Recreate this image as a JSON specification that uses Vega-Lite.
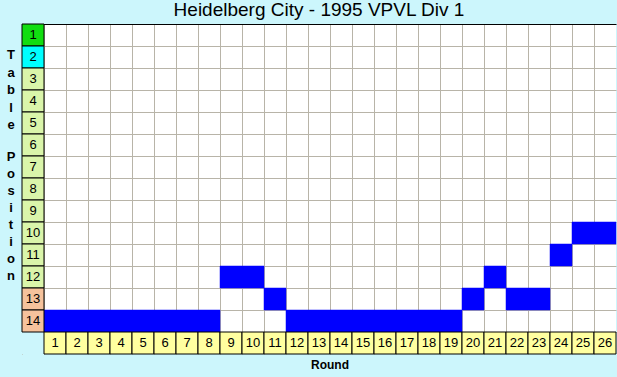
{
  "$schema": "https://vega.github.io/schema/vega-lite/v6.json",
  "width": 594,
  "height": 330,
  "autosize": {"type": "none"},
  "padding": {"left": 22, "top": 24, "right": 1, "bottom": 23},
  "background": "#CCF6FC",
  "config": {
    "view": {"fill": "white", "stroke": null},
    "font": "Liberation Sans",
    "axis": {"grid": true, "labels": false, "ticks": false, "domain": false, "bandPosition": 0, "gridColor": "#B8B4A8", "gridOpacity": 1, "gridWidth": 1, "zindex": 0}
  },
  "title": {"text": "Heidelberg City - 1995 VPVL Div 1", "fontSize": 19, "fontWeight": "normal", "color": "black", "anchor": "middle", "font": "Liberation Sans", "offset": 4},
  "datasets": {
    "positions": [
      {"pos": 1, "zone": "champ"}, {"pos": 2, "zone": "second"}, {"pos": 3, "zone": "mid"}, {"pos": 4, "zone": "mid"},
      {"pos": 5, "zone": "mid"}, {"pos": 6, "zone": "mid"}, {"pos": 7, "zone": "mid"}, {"pos": 8, "zone": "mid"},
      {"pos": 9, "zone": "mid"}, {"pos": 10, "zone": "mid"}, {"pos": 11, "zone": "mid"}, {"pos": 12, "zone": "mid"},
      {"pos": 13, "zone": "releg"}, {"pos": 14, "zone": "releg"}
    ],
    "rounds": [
      {"round": 1}, {"round": 2}, {"round": 3}, {"round": 4}, {"round": 5}, {"round": 6}, {"round": 7}, {"round": 8},
      {"round": 9}, {"round": 10}, {"round": 11}, {"round": 12}, {"round": 13}, {"round": 14}, {"round": 15}, {"round": 16},
      {"round": 17}, {"round": 18}, {"round": 19}, {"round": 20}, {"round": 21}, {"round": 22}, {"round": 23}, {"round": 24},
      {"round": 25}, {"round": 26}
    ],
    "results": [
      {"round": 1, "pos": 14}, {"round": 2, "pos": 14}, {"round": 3, "pos": 14}, {"round": 4, "pos": 14},
      {"round": 5, "pos": 14}, {"round": 6, "pos": 14}, {"round": 7, "pos": 14}, {"round": 8, "pos": 14},
      {"round": 9, "pos": 12}, {"round": 10, "pos": 12}, {"round": 11, "pos": 13}, {"round": 12, "pos": 14},
      {"round": 13, "pos": 14}, {"round": 14, "pos": 14}, {"round": 15, "pos": 14}, {"round": 16, "pos": 14},
      {"round": 17, "pos": 14}, {"round": 18, "pos": 14}, {"round": 19, "pos": 14}, {"round": 20, "pos": 13},
      {"round": 21, "pos": 12}, {"round": 22, "pos": 13}, {"round": 23, "pos": 13}, {"round": 24, "pos": 11},
      {"round": 25, "pos": 10}, {"round": 26, "pos": 10}
    ],
    "labels": [
      {"label": "Round", "where": "x"},
      {"label": "T\na\nb\nl\ne", "where": "y1"},
      {"label": "P\no\ns\ni\nt\ni\no\nn", "where": "y2"}
    ]
  },
  "layer": [
    {
      "data": {"name": "results"},
      "mark": {"type": "rect", "fill": "#0000FF", "stroke": "#0000FF", "strokeWidth": 0.5, "zindex": 1},
      "encoding": {
        "x": {"field": "round", "type": "ordinal", "title": null, "scale": {"domain": [0,1,2,3,4,5,6,7,8,9,10,11,12,13,14,15,16,17,18,19,20,21,22,23,24,25,26], "paddingInner": 0, "paddingOuter": 0}},
        "y": {"field": "pos", "type": "ordinal", "title": null, "scale": {"domain": [1,2,3,4,5,6,7,8,9,10,11,12,13,14,15], "paddingInner": 0, "paddingOuter": 0},
              "axis": {"gridColor": {"condition": {"test": "datum.value === 1", "value": "black"}, "value": "#B8B4A8"}}}
      }
    },
    {
      "data": {"values": [{"cell": "corner"}]},
      "mark": {"type": "rect", "fill": "#CCF6FC", "stroke": null, "zindex": 1},
      "encoding": {
        "x": {"datum": 0, "type": "ordinal", "title": null},
        "y": {"datum": 15, "type": "ordinal", "title": null}
      }
    },
    {
      "data": {"name": "positions"},
      "mark": {"type": "rect", "stroke": "black", "strokeWidth": 1, "zindex": 2},
      "encoding": {
        "x": {"datum": 0, "type": "ordinal", "title": null},
        "y": {"field": "pos", "type": "ordinal", "title": null},
        "fill": {"field": "zone", "type": "nominal", "legend": null,
                 "scale": {"domain": ["champ", "second", "mid", "releg"], "range": ["#11DD11", "#00FFFF", "#DAF5AA", "#F5C29C"]}}
      }
    },
    {
      "data": {"name": "positions"},
      "mark": {"type": "text", "fontSize": 13, "color": "black", "align": "center", "baseline": "middle", "zindex": 3},
      "encoding": {
        "x": {"datum": 0, "type": "ordinal", "title": null},
        "y": {"field": "pos", "type": "ordinal", "title": null},
        "text": {"field": "pos", "type": "ordinal"}
      }
    },
    {
      "data": {"name": "rounds"},
      "mark": {"type": "rect", "fill": "#FFFFA0", "stroke": "black", "strokeWidth": 1, "zindex": 2},
      "encoding": {
        "x": {"field": "round", "type": "ordinal", "title": null},
        "y": {"datum": 15, "type": "ordinal", "title": null}
      }
    },
    {
      "data": {"name": "rounds"},
      "mark": {"type": "text", "fontSize": 13, "color": "black", "align": "center", "baseline": "middle", "zindex": 3},
      "encoding": {
        "x": {"field": "round", "type": "ordinal", "title": null},
        "y": {"datum": 15, "type": "ordinal", "title": null},
        "text": {"field": "round", "type": "ordinal"}
      }
    },
    {
      "data": {"name": "labels"},
      "transform": [{"filter": "datum.where === 'x'"}],
      "mark": {"type": "text", "fontSize": 12, "fontWeight": "bold", "color": "black", "align": "center", "baseline": "middle", "dy": 11, "zindex": 3},
      "encoding": {
        "x": {"datum": 13, "type": "ordinal", "bandPosition": 1, "title": null},
        "y": {"datum": 15, "type": "ordinal", "bandPosition": 1, "title": null},
        "text": {"field": "label", "type": "nominal"}
      }
    },
    {
      "data": {"name": "labels"},
      "transform": [{"filter": "datum.where === 'y1'"}],
      "mark": {"type": "text", "fontSize": 13, "fontWeight": "bold", "color": "black", "align": "center", "baseline": "middle", "dx": -11, "lineBreak": "\n", "lineHeight": 17.5, "zindex": 3},
      "encoding": {
        "x": {"datum": 0, "type": "ordinal", "bandPosition": 0, "title": null},
        "y": {"datum": 2, "type": "ordinal", "bandPosition": 0.41, "title": null},
        "text": {"field": "label", "type": "nominal"}
      }
    },
    {
      "data": {"name": "labels"},
      "transform": [{"filter": "datum.where === 'y2'"}],
      "mark": {"type": "text", "fontSize": 13, "fontWeight": "bold", "color": "black", "align": "center", "baseline": "middle", "dx": -11, "lineBreak": "\n", "lineHeight": 17, "zindex": 3},
      "encoding": {
        "x": {"datum": 0, "type": "ordinal", "bandPosition": 0, "title": null},
        "y": {"datum": 7, "type": "ordinal", "bandPosition": 0.05, "title": null},
        "text": {"field": "label", "type": "nominal"}
      }
    }
  ]
}
